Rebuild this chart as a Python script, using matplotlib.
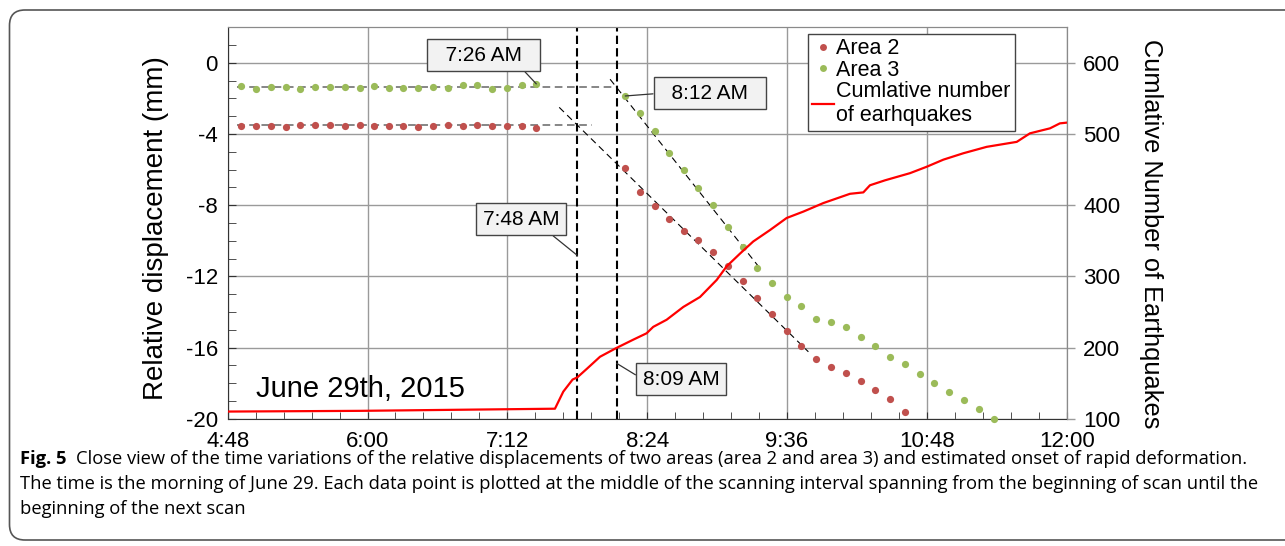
import matplotlib
matplotlib.use("Agg")
import matplotlib.pyplot as plt
from matplotlib.ticker import MultipleLocator, FuncFormatter
from matplotlib.lines import Line2D
from matplotlib.patches import FancyBboxPatch

plt.rcParams['font.family'] = ['Liberation Sans', 'DejaVu Sans']

# times are minutes after midnight (June 29th, 2015)
flat_time = [295.0, 302.8, 310.3, 317.8, 325.4, 333.1, 340.6, 348.2, 355.9, 363.4, 371.0,
             378.5, 386.2, 393.8, 401.3, 409.0, 416.6, 424.1, 431.6, 439.4, 446.9]
area3_flat = [-1.29, -1.46, -1.35, -1.35, -1.46, -1.35, -1.37, -1.37, -1.39, -1.29, -1.39,
              -1.41, -1.41, -1.35, -1.44, -1.26, -1.24, -1.46, -1.41, -1.22, -1.18]
area2_flat = [-3.53, -3.53, -3.53, -3.58, -3.51, -3.51, -3.49, -3.53, -3.47, -3.55, -3.55,
              -3.55, -3.58, -3.55, -3.49, -3.55, -3.51, -3.53, -3.53, -3.53, -3.64]

fall_time = [492.7, 500.1, 507.8, 515.2, 522.9, 530.3, 538.0, 545.7, 553.1, 560.6, 568.3,
             576.1, 583.4, 591.1, 598.7, 606.4, 614.1, 621.5, 629.2, 636.6, 644.3, 651.8,
             659.4, 667.1, 674.6, 682.4]
area3_fall = [-1.86, -2.83, -3.85, -5.05, -6.01, -7.06, -8.00, -9.24, -10.33, -11.53, -12.39,
              -13.18, -13.65, -14.37, -14.55, -14.85, -15.41, -15.89, -16.54, -16.90, -17.48,
              -18.01, -18.48, -18.93, -19.45, -20.0]
area2_fall = [-5.93, -7.28, -8.04, -8.79, -9.43, -9.93, -10.63, -11.40, -12.28, -13.22, -14.12,
              -15.06, -15.92, -16.64, -17.10, -17.44, -17.86, -18.38, -18.91, -19.61]

# cumulative number of earthquakes
eq_time = [288.0, 356.1, 456.5, 460.8, 465.6, 468.0, 472.9, 479.7, 487.9, 496.8, 503.7,
           507.1, 514.0, 522.6, 531.2, 539.8, 544.9, 551.8, 558.6, 567.2, 575.8, 584.4,
           594.7, 608.4, 615.3, 618.7, 626.5, 639.3, 647.9, 656.5, 666.8, 678.8, 694.3,
           701.1, 711.4, 716.5, 720.0]
eq_count = [110, 111, 114, 138, 155, 158, 170, 187, 199, 211, 220,
            229, 239, 257, 271, 295, 314, 332, 349, 365, 382, 391,
            403, 416, 418, 428, 435, 445, 454, 464, 473, 482, 489,
            501, 508, 515, 516]

# estimated trend lines (time pairs, value pairs)
area3_level = ([292.8, 488.5], [-1.35, -1.35])
area2_level = ([292.8, 475.6], [-3.52, -3.52])
area3_trend = ([484.9, 562.1], [-0.92, -11.55])
area2_trend = ([458.7, 587.0], [-2.50, -16.24])

onset_times = [468, 488.3]   # 7:48 and 8:09

red = '#c0504d'
green = '#9bbb59'

fig = plt.figure(figsize=(12.85, 5.46), dpi=100)
ax = fig.add_axes([0.1772, 0.2332, 0.6529, 0.7168])
ax2 = ax.twinx()

ax.plot(*area3_level, color='#666666', lw=1.1, ls=(0, (5, 3)))
ax.plot(*area2_level, color='#666666', lw=1.1, ls=(0, (5, 3)))
ax.plot(*area3_trend, color='black', lw=0.8, ls=(0, (6, 4)))
ax.plot(*area2_trend, color='black', lw=0.8, ls=(0, (6, 4)))

ax.plot(flat_time + fall_time[:len(area2_fall)], area2_flat + area2_fall, 'o', color=red,
        ms=5.2, mew=0, clip_on=False, zorder=3)
ax.plot(flat_time + fall_time, area3_flat + area3_fall, 'o', color=green,
        ms=5.2, mew=0, clip_on=False, zorder=3)

for t in onset_times:
    ax.axvline(t, color='black', lw=1.5, ls=(0, (4, 2)), zorder=2)

ax2.plot(eq_time, eq_count, color='red', lw=1.6)

ax.set_xlim(288, 720)
ax.set_ylim(-20, 2)
ax2.set_ylim(100, 650)

ax.xaxis.set_major_locator(MultipleLocator(72))
ax.xaxis.set_minor_locator(MultipleLocator(14.4))
ax.xaxis.set_major_formatter(FuncFormatter(lambda v, p: '%d:%02d' % (int(round(v)) // 60, int(round(v)) % 60)))
ax.yaxis.set_major_locator(MultipleLocator(4))
ax.yaxis.set_minor_locator(MultipleLocator(1))
ax.yaxis.set_major_formatter(FuncFormatter(lambda v, p: '%d' % v))
ax2.set_yticks([100, 200, 300, 400, 500, 600])

ax.grid(True, which='major', color='#9a9a9a', lw=1)
ax.tick_params(axis='both', which='both', direction='in', labelsize=16, colors='#333333',
               labelcolor='black', top=False, right=False)
ax.tick_params(axis='y', which='major', length=6, pad=7)
ax.tick_params(axis='y', which='minor', length=6)
ax.tick_params(axis='x', which='major', length=5, pad=9)
ax.tick_params(axis='x', which='minor', length=5)
ax2.tick_params(axis='y', direction='out', length=6, width=1, colors='#9a9a9a',
                labelcolor='black', labelsize=16, pad=6)

for s in ['left', 'bottom']:
    ax.spines[s].set_color('#333333')
for s in ['top', 'right']:
    ax.spines[s].set_color('#8a8a8a')
    ax2.spines[s].set_color('#8a8a8a')
ax2.spines['left'].set_visible(False)
ax2.spines['bottom'].set_visible(False)

ax.set_ylabel('Relative displacement (mm)', fontsize=20)
ax.yaxis.set_label_coords(-0.0697, 0.486)
ax2.set_ylabel('Cumlative Number of Earthquakes', fontsize=18.3, rotation=270)
ax2.yaxis.set_label_coords(1.1143, 0.472)

ax.text(302.6, -18.77, 'June 29th, 2015', fontsize=21, va='baseline', ha='left')

box = dict(boxstyle='square,pad=0.32', fc='#f2f2f2', ec='#444444', lw=1)
line = dict(arrowstyle='-', color='#333333', lw=0.9, shrinkA=0, shrinkB=0)
ax.annotate('  7:26 AM  ', xy=(flat_time[-1], area3_flat[-1]), xytext=(419.7, 0.43),
            fontsize=15, ha='center', va='center', bbox=box,
            arrowprops=dict(line, relpos=(0.85, 0)))
ax.annotate('  8:12 AM  ', xy=(fall_time[0], area3_fall[0]), xytext=(536.3, -1.71),
            fontsize=15, ha='center', va='center', bbox=box,
            arrowprops=dict(line, relpos=(0, 0.5)))
ax.annotate('7:48 AM', xy=(onset_times[0], -10.82), xytext=(439.2, -8.79),
            fontsize=15, ha='center', va='center', bbox=box,
            arrowprops=dict(line, relpos=(0.8, 0)))
ax.annotate('8:09 AM', xy=(onset_times[1], -16.89), xytext=(521.4, -17.78),
            fontsize=15, ha='center', va='center', bbox=box,
            arrowprops=dict(line, relpos=(0, 0.5)))

handles = [Line2D([], [], ls='none', marker='o', color=red, ms=5, mew=0),
           Line2D([], [], ls='none', marker='o', color=green, ms=5, mew=0),
           Line2D([], [], color='red', lw=1.6)]
leg = ax2.legend(handles, ['Area 2', 'Area 3', 'Cumlative number\nof earhquakes'],
                 loc='upper left', bbox_to_anchor=(0.6917, 0.983), borderaxespad=0,
                 fontsize=15.5, frameon=True, fancybox=False, framealpha=1,
                 edgecolor='#444444', handlelength=1.0, handletextpad=0.1,
                 borderpad=0.2, labelspacing=0.02)
leg.get_frame().set_linewidth(1)

# caption
cap_font = ['Open Sans', 'DejaVu Sans']
cap_size = 13.2
t1 = fig.text(20 / 1285, 1 - 464 / 546, 'Fig. 5', fontsize=cap_size, fontweight='bold',
              family=cap_font, va='baseline')
fig.canvas.draw()
bb = t1.get_window_extent()
fig.text(bb.x1 / 1285 + 9 / 1285, 1 - 464 / 546,
         'Close view of the time variations of the relative displacements of two areas '
         '(area 2 and area 3) and estimated onset of rapid deformation.',
         fontsize=cap_size, family=cap_font, va='baseline')
fig.text(20 / 1285, 1 - 489 / 546,
         'The time is the morning of June 29. Each data point is plotted at the middle of the '
         'scanning interval spanning from the beginning of scan until the',
         fontsize=cap_size, family=cap_font, va='baseline')
fig.text(20 / 1285, 1 - 514 / 546, 'beginning of the next scan',
         fontsize=cap_size, family=cap_font, va='baseline')

frame = FancyBboxPatch((9.5 / 1285, 6 / 546), 1.2, 1 - 16 / 546,
                       boxstyle='round,pad=0,rounding_size=0.012', transform=fig.transFigure,
                       fc='none', ec='#555555', lw=1.2, clip_on=False, mutation_aspect=1285 / 546)
fig.patches.append(frame)

fig.savefig('out.png', dpi=100)
